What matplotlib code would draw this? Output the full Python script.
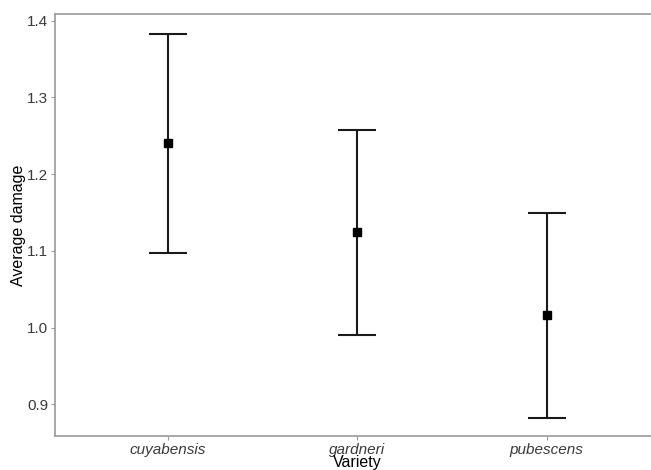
import matplotlib
matplotlib.use("Agg")
import matplotlib.pyplot as plt

plt.rcParams['font.family'] = ['Liberation Sans', 'DejaVu Sans']

varieties = ['cuyabensis', 'gardneri', 'pubescens']
means = [1.240, 1.124, 1.016]
upper = [1.383, 1.257, 1.149]
lower = [1.097, 0.990, 0.882]
yticks = [0.9, 1.0, 1.1, 1.2, 1.3, 1.4]

fig = plt.figure(figsize=(6.51, 4.70), dpi=100)
# panel runs past the right edge of the image, as in the source
ax = fig.add_axes([55 / 651, 34.3 / 470, 605 / 651, 421.7 / 470])

x = list(range(1, len(varieties) + 1))
err = [[m - l for m, l in zip(means, lower)], [u - m for m, u in zip(means, upper)]]
ax.errorbar(x, means, yerr=err, fmt='s', color='black', ecolor='#1a1a1a',
            elinewidth=1.5, capsize=13.7, capthick=1.5, markersize=5.5)

ax.set_xlim(0.405, 3.598)
ax.set_ylim(0.859, 1.4087)
ax.set_xticks(x)
ax.set_xticklabels(varieties, fontstyle='italic')
ax.set_yticks(yticks)
ax.set_yticklabels([f"{v:.1f}" for v in yticks])

for side in ['left', 'bottom', 'top']:
    ax.spines[side].set_color('#9a9a9a')
    ax.spines[side].set_linewidth(1.2)
ax.spines['right'].set_visible(False)
ax.tick_params(axis='both', colors='#9a9a9a', length=3, width=0.8,
               labelsize=11, labelcolor='#3a3a3a', pad=2)

ax.set_xlabel("Variety", fontsize=11.5, labelpad=-1)
ax.set_ylabel("Average damage", fontsize=11.5, labelpad=1)

fig.savefig("out.png", dpi=100)
